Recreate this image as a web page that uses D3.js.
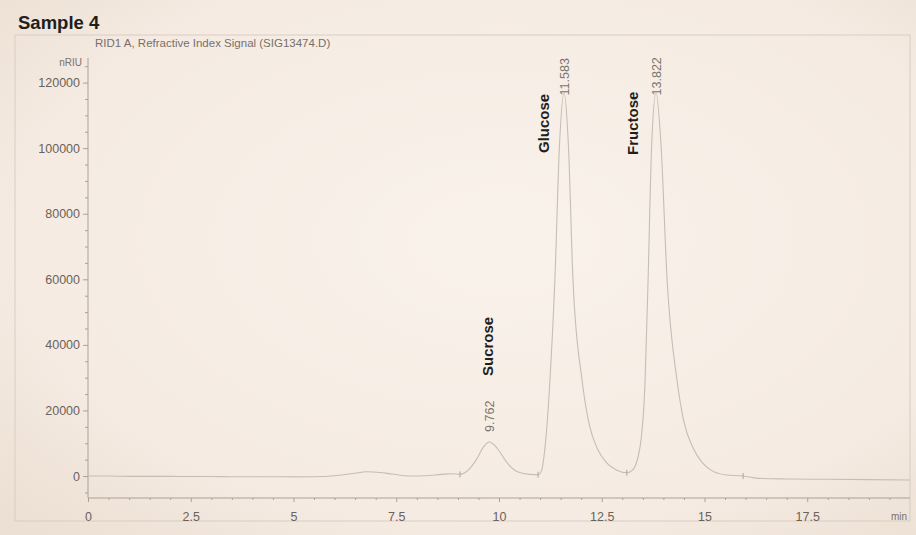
<!DOCTYPE html>
<html>
<head>
<meta charset="utf-8">
<script src="https://cdn.jsdelivr.net/npm/d3@7"></script>
<style>
body { margin: 0; background: #f2e7dd; }
svg { display: block; }
</style>
</head>
<body>
<div id="graph"></div>
<script>
var graph_width = 916;
var graph_height = 535;

// chart data
var sampleTitle = "Sample 4";
var signalTitle = "RID1 A, Refractive Index Signal (SIG13474.D)";
var xTicks = [0, 2.5, 5, 7.5, 10, 12.5, 15, 17.5];
var xTickLabels = ["0", "2.5", "5", "7.5", "10", "12.5", "15", "17.5"];
var yTicks = [0, 20000, 40000, 60000, 80000, 100000, 120000];
var yTickLabels = ["0", "20000", "40000", "60000", "80000", "100000", "120000"];

var traceTime = [0, 0.5, 1, 1.5, 2, 2.5, 3, 3.5, 4, 4.5, 5, 5.5, 6, 6.4, 6.8, 7.1, 7.4, 7.8, 8.2, 8.6, 8.85,
	9.05, 9.25, 9.45, 9.62, 9.762, 9.9, 10.0, 10.2, 10.45, 10.75, 10.95,
	11.03, 11.12, 11.24, 11.36, 11.47, 11.583, 11.69, 11.80, 12.02, 12.2, 12.39, 12.6, 12.87, 13.11,
	13.25, 13.43, 13.555, 13.627, 13.713, 13.822, 13.944, 14.09, 14.33, 14.5, 14.72, 14.95, 15.2, 15.5, 15.94,
	16.3, 17, 18, 19, 20];
var traceSignal = [0, 0, -100, -100, -100, -150, -150, -200, -200, -200, -250, -200, 100, 700, 1300, 1100, 600, 0, 100, 500, 700,
	500, 1800, 5000, 8800, 10400, 9300, 7700, 4000, 1300, 500, 400,
	1500, 8800, 29300, 59800, 100500, 117000, 100500, 59800, 29300, 15500, 8400, 4300, 1800, 1000,
	1800, 8800, 29300, 59800, 100500, 117000, 100500, 59800, 29300, 16500, 8600, 4000, 1500, 400, 0,
	-700, -900, -1000, -1100, -1200];

var peakNames = ["Sucrose", "Glucose", "Fructose"];
var peakTimes = [9.762, 11.583, 13.822];
var peakLabels = ["9.762", "11.583", "13.822"];
var peakHeights = [10400, 117000, 117000];
var markTimes = [9.05, 10.95, 13.11, 15.94];
var markSignals = [500, 400, 1000, 0];

// layout
var font = "'Liberation Sans', Arial, sans-serif";
var x = d3.scaleLinear().domain([0, 20]).range([88, 910]);
var y = d3.scaleLinear().domain([-6700, 127500]).range([498, 58]);

var svg = d3.select('#graph')
	.append('svg')
	.attr('width', graph_width)
	.attr('height', graph_height);

// paper background
var defs = svg.append('defs');
var grad = defs.append('radialGradient').attr('id', 'paper')
	.attr('cx', '55%').attr('cy', '45%').attr('r', '75%');
grad.append('stop').attr('offset', '0%').attr('stop-color', '#f9f2eb');
grad.append('stop').attr('offset', '70%').attr('stop-color', '#f5ebe2');
grad.append('stop').attr('offset', '100%').attr('stop-color', '#ecdfd3');
svg.append('rect')
	.attr('width', graph_width)
	.attr('height', graph_height)
	.attr('fill', 'url(#paper)');

// print frame
svg.append('rect')
	.attr('x', 15).attr('y', 35)
	.attr('width', 895).attr('height', 486)
	.attr('fill', 'none')
	.attr('style', 'stroke:#d8cdc3;stroke-width:1');

svg.append('text')
	.attr('x', 18).attr('y', 29)
	.attr('style', 'font-family:' + font + ';font-size:18.5px;font-weight:bold;fill:#221e1b')
	.text(sampleTitle);

svg.append('text')
	.attr('x', 95).attr('y', 47)
	.attr('style', 'font-family:' + font + ';font-size:11.5px;fill:#77706a')
	.text(signalTitle);

svg.append('text')
	.attr('x', 82).attr('y', 66)
	.attr('text-anchor', 'end')
	.attr('style', 'font-family:' + font + ';font-size:10px;fill:#7a726c')
	.text("nRIU");

// axes
var yMinor = d3.range(-5000, 127500, 5000).filter(function (d) { return d % 20000 != 0; });
var xMinor = d3.range(0.5, 20, 0.5).filter(function (d) { return d % 2.5 != 0; });

var gy = svg.append('g').attr('transform', 'translate(' + x(0) + ',0)');
gy.call(d3.axisLeft(y).tickValues(yTicks).tickSize(5).tickPadding(3)
	.tickFormat(function (d, i) { return yTickLabels[i]; }));
gy.append('g').call(d3.axisLeft(y).tickValues(yMinor).tickSize(3).tickFormat(""));

var gx = svg.append('g').attr('transform', 'translate(0,' + y.range()[0] + ')');
gx.call(d3.axisBottom(x).tickValues(xTicks).tickSize(4).tickPadding(10)
	.tickFormat(function (d, i) { return xTickLabels[i]; }));
gx.append('g').call(d3.axisBottom(x).tickValues(xMinor).tickSize(2).tickFormat(""));

svg.selectAll('.domain').remove();
svg.selectAll('.tick line').attr('stroke', '#aaa19a');
svg.selectAll('.tick text')
	.attr('style', 'font-family:' + font + ';font-size:12.5px;fill:#6a625b');

svg.append('line')
	.attr('x1', x(0)).attr('y1', y.range()[1])
	.attr('x2', x(0)).attr('y2', y.range()[0])
	.attr('style', 'stroke:#aaa19a;stroke-width:1');
svg.append('line')
	.attr('x1', x(0)).attr('y1', y.range()[0])
	.attr('x2', x(20)).attr('y2', y.range()[0])
	.attr('style', 'stroke:#aaa19a;stroke-width:1');

svg.append('text')
	.attr('x', 907).attr('y', 520)
	.attr('text-anchor', 'end')
	.attr('style', 'font-family:' + font + ';font-size:10px;fill:#7a726c')
	.text("min");

// signal trace
var line = d3.line()
	.x(function (d, i) { return x(traceTime[i]); })
	.y(function (d) { return y(d); })
	.curve(d3.curveMonotoneX);
svg.append('path')
	.attr('d', line(traceSignal))
	.attr('fill', 'none')
	.attr('style', 'stroke:#c6bdb6;stroke-width:1.1');

// integration marks
for (var i = 0; i < markTimes.length; i++)
{
	svg.append('line')
		.attr('x1', x(markTimes[i])).attr('y1', y(markSignals[i]) - 3)
		.attr('x2', x(markTimes[i])).attr('y2', y(markSignals[i]) + 3)
		.attr('style', 'stroke:#aea59e;stroke-width:1');
}

// peak annotations: retention time above apex, compound name in bold
var rtOffset = [10, -3, -3];
var nameDx = [-2, -21, -24];
var nameBottom = [376, 153, 155];
for (var i = 0; i < peakNames.length; i++)
{
	var px = x(peakTimes[i]);
	svg.append('text')
		.attr('transform', 'translate(' + (px + 4.5) + ',' + (y(peakHeights[i]) - rtOffset[i]) + ') rotate(-90)')
		.attr('style', 'font-family:' + font + ';font-size:12.5px;fill:#7d756f')
		.text(peakLabels[i]);
	svg.append('text')
		.attr('transform', 'translate(' + (px + nameDx[i] + 5.5) + ',' + nameBottom[i] + ') rotate(-90)')
		.attr('style', 'font-family:' + font + ';font-size:15px;font-weight:bold;fill:#221e1b')
		.text(peakNames[i]);
}
</script>
</body>
</html>
